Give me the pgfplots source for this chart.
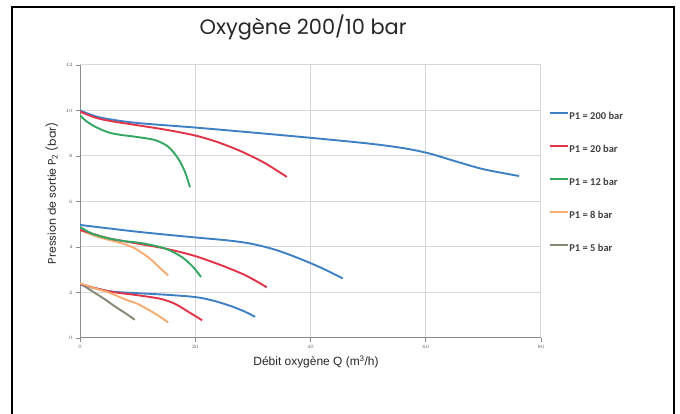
\documentclass[border=0pt]{standalone}
\usepackage{pgfplots}
\pgfplotsset{compat=1.18}
\usepackage{fontspec}
\setmainfont{Liberation Sans}
\newfontfamily\titlefont{Poppins}
\newfontfamily\legfont{Carlito}

\definecolor{cblue}{RGB}{62,128,196}
\definecolor{cred}{RGB}{226,52,72}
\definecolor{cgreen}{RGB}{52,168,98}
\definecolor{corange}{RGB}{246,172,112}
\definecolor{cgrey}{RGB}{135,135,115}
\definecolor{gridc}{RGB}{215,215,215}

\begin{document}
\begin{tikzpicture}
\useasboundingbox (0bp,0bp) rectangle (680bp,414bp);
\clip (0bp,0bp) rectangle (680bp,414bp);
% cadre de la figure
\draw[line width=1.5bp] (12bp,-5bp) -- (12bp,407bp) -- (674bp,407bp) -- (674bp,-5bp);
\begin{axis}[
  at={(80bp,76bp)}, anchor=south west,
  scale only axis, width=461bp, height=273bp,
  xmin=0, xmax=80, ymin=0, ymax=12,
  xtick={0,20,...,80}, ytick={0,2,...,12},
  axis x line=bottom, axis y line=left,
  axis line style={-, draw=gray!90, line width=1bp},
  grid=major, major grid style={draw=gridc, line width=1bp},
  tick align=outside, major tick length=4bp,
  tick style={draw=gray!90, line width=0.8bp},
  ticklabel style={font=\fontsize{4.8}{5}\selectfont\bfseries, text=gray!70!black},
  title={Oxygène 200/10 bar},
  title style={at={(axis description cs:0.484,1.117)}, anchor=center,
    font=\titlefont\fontsize{21}{24}\selectfont, text=black!85},
  xlabel={Débit oxygène Q (m\textsuperscript{3}/h)},
  xlabel style={at={(axis description cs:0.512,-0.088)}, anchor=center,
    font=\fontsize{12}{14}\selectfont, text=black!85},
  ylabel={Pression de sortie P\textsubscript{2} (bar)},
  ylabel style={at={(axis description cs:-0.0614,0.53)}, anchor=center,
    font=\titlefont\fontsize{11}{13}\selectfont, text=black!85},
  legend style={at={(axis description cs:1.017,0.832)}, anchor=north west,
    draw=none, fill=none, inner sep=0pt, row sep=23bp,
    font=\legfont\bfseries\fontsize{10.5}{11}\selectfont, text=gray!50!black,
    nodes={inner xsep=1bp, inner ysep=0pt, text height=8bp, text depth=2bp}},
  legend cell align=left,
  legend image code/.code={\draw[#1, line width=1.4bp] (0bp,3bp) -- (18bp,3bp);},
  every axis plot/.append style={line width=1.9bp, smooth, tension=0.5, no marks},
]
% P2 = 10 bar
\addplot[cblue] coordinates {(0,10)(2.5,9.76)(5,9.62)(10,9.45)(20,9.25)(30,9.03)(40,8.8)(50,8.55)(56,8.35)(60.5,8.12)(65,7.78)(70,7.42)(76.2,7.12)};
\addlegendentry{P1 = 200 bar}
\addplot[cred] coordinates {(0,9.95)(2.5,9.7)(5,9.55)(10,9.35)(15,9.15)(20,8.9)(24,8.6)(28,8.2)(32,7.7)(35.9,7.08)};
\addlegendentry{P1 = 20 bar}
\addplot[cgreen] coordinates {(0,9.8)(1,9.55)(2.6,9.29)(4.9,9.04)(7,8.93)(9.5,8.85)(13,8.7)(15.3,8.41)(17,7.9)(18.2,7.31)(19.1,6.62)};
\addlegendentry{P1 = 12 bar}
% P2 = 5 bar
\addplot[corange] coordinates {(0,4.75)(3,4.45)(6,4.25)(8,4.1)(9.5,3.94)(11,3.7)(12.4,3.43)(14,3.05)(15.3,2.75)};
\addlegendentry{P1 = 8 bar}
\addplot[cgrey] coordinates {(0,2.4)(2.6,1.98)(4.5,1.67)(6.1,1.38)(8,1.07)(9.5,0.8)};
\addlegendentry{P1 = 5 bar}
\addplot[cblue, forget plot] coordinates {(0,4.97)(10,4.67)(20,4.42)(26,4.28)(30,4.13)(34,3.87)(38,3.5)(42,3.07)(45.6,2.62)};
\addplot[cred, forget plot] coordinates {(0,4.75)(5,4.38)(10,4.15)(15,3.92)(20,3.6)(25,3.15)(29,2.72)(32.4,2.23)};
\addplot[cgreen, forget plot] coordinates {(0,4.88)(2,4.6)(4.9,4.38)(8,4.25)(10.7,4.17)(14.7,3.94)(17.6,3.57)(19.6,3.13)(21,2.68)};
% P2 = 2 bar
\addplot[cblue, forget plot] coordinates {(0,2.35)(5,2.06)(10,1.97)(15,1.9)(20,1.8)(23,1.65)(26,1.42)(28.5,1.17)(30.4,0.93)};
\addplot[cred, forget plot] coordinates {(0,2.38)(5,2.05)(10,1.88)(14,1.72)(16.5,1.5)(19,1.12)(21.2,0.78)};
\addplot[corange, forget plot] coordinates {(0,2.4)(3,2.15)(5,2.0)(7.8,1.7)(10,1.5)(11.8,1.25)(13.5,1.0)(15.3,0.68)};
\end{axis}
\end{tikzpicture}
\end{document}
